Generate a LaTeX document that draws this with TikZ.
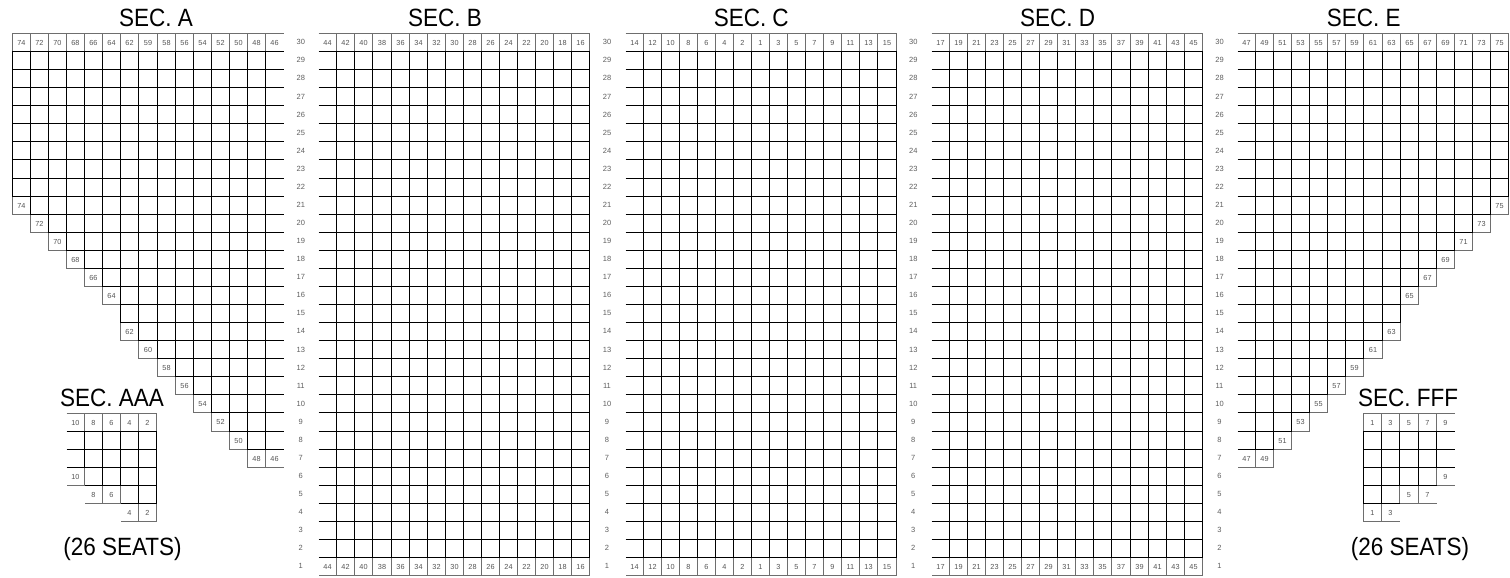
\documentclass[tikz,border=0pt]{standalone}
\usepackage{fontspec}
\setmainfont{Liberation Sans}
\newfontfamily\titlefont[FakeStretch=0.9]{Liberation Sans}
\usepackage{xcolor}
\definecolor{colNum}{RGB}{85,85,85}
\definecolor{colRow}{RGB}{95,95,95}
\definecolor{colThin}{RGB}{110,110,110}
\newcommand{\seatfont}{\fontsize{7.3}{7.3}\selectfont}
\newcommand{\rowfont}{\fontsize{7.5}{7.5}\selectfont}
\newcommand{\titlesize}{\titlefont\fontsize{25}{25}\selectfont}
\tikzset{
    seatline/.style={draw=black, line width=1.3pt},
    numline/.style={draw=colThin, line width=0.8pt},
    seatnum/.style={font=\seatfont, text=colNum, inner sep=0pt, anchor=base},
    rowlabel/.style={font=\rowfont, text=colRow, inner sep=0pt, anchor=base},
    sectitle/.style={font=\titlesize, inner sep=0pt, anchor=base}
}
\newcommand{\seatw}{18.07}
\newcommand{\rowy}[1]{(33+(30-#1)*\seatw)}
\newcommand{\secx}[1]{(12+#1*306.25)}
% corners of a seat, kept on the pixel grid
\newcommand{\seatbox}[2]{%
    \pgfmathsetmacro\xa{round(#1)+0.5}\pgfmathsetmacro\xb{round((#1)+\seatw)+0.5}%
    \pgfmathsetmacro\ya{round(#2)+0.5}\pgfmathsetmacro\yb{round((#2)+\seatw)+0.5}}
% seat open on the right (top, left, bottom edges)
\newcommand{\seatL}[3]{\seatbox{#2}{#3}\draw[#1] (\xb,\ya) -- (\xa,\ya) -- (\xa,\yb) -- (\xb,\yb);}
% seat open on the left (top, right, bottom edges)
\newcommand{\seatR}[3]{\seatbox{#2}{#3}\draw[#1] (\xa,\ya) -- (\xb,\ya) -- (\xb,\yb) -- (\xa,\yb);}
\newcommand{\numL}[4]{\seatL{numline}{#2}{#3}\node[seatnum] (#1) at ({(\xa+\xb)/2},{(\ya+\yb)/2+2.7}) {#4};}
\newcommand{\numR}[4]{\seatR{numline}{#2}{#3}\node[seatnum] (#1) at ({(\xa+\xb)/2},{(\ya+\yb)/2+2.7}) {#4};}

\begin{document}
\begin{tikzpicture}[x=1pt, y=-1pt]

    \fill[white] (0,0) rectangle (1510,578);
    \useasboundingbox (0,0) rectangle (1510,578);

    % section titles
    \node[sectitle] (titleA) at (156,26.7) {SEC. A};
    \node[sectitle] (titleB) at ({\secx{1}+126.75},26.7) {SEC. B};
    \node[sectitle] (titleC) at ({\secx{2}+126.75},26.7) {SEC. C};
    \node[sectitle] (titleD) at ({\secx{3}+126.75},26.7) {SEC. D};
    \node[sectitle] (titleE) at ({\secx{4}+126.75},26.7) {SEC. E};

    % row numbers between the sections
    \foreach \k in {0,...,3} {
        \foreach \r in {1,...,30} {
            \node[rowlabel] (row-\k-\r) at ({\secx{\k}+288.75},{\rowy{\r}+\seatw/2+2.8}) {\r};
        }
    }

    % SEC. A
    \foreach \n [count=\c] in {74,72,70,68,66,64,62,59,58,56,54,52,50,48,46} {
        \numL{A30-\c}{\secx{0}+(\c-1)*\seatw}{\rowy{30}}{\n}
    }
    \foreach \r/\c/\n in {21/1/74,20/2/72,19/3/70,18/4/68,17/5/66,16/6/64,14/7/62,13/8/60,
                          12/9/58,11/10/56,10/11/54,9/12/52,8/13/50,7/14/48,7/15/46} {
        \numL{A\r-\c}{\secx{0}+(\c-1)*\seatw}{\rowy{\r}}{\n}
    }
    \foreach \r/\s in {29/1,28/1,27/1,26/1,25/1,24/1,23/1,22/1,21/2,20/3,19/4,18/5,17/6,
                       16/7,15/7,14/8,13/9,12/10,11/11,10/12,9/13,8/14} {
        \foreach \c in {\s,...,15} {
            \seatL{seatline}{\secx{0}+(\c-1)*\seatw}{\rowy{\r}}
        }
    }

    % SEC. B, C, D
    \foreach \c in {1,...,15} {
        \pgfmathtruncatemacro\n{46-2*\c}
        \numR{B30-\c}{\secx{1}+(\c-1)*\seatw}{\rowy{30}}{\n}
        \numR{B1-\c}{\secx{1}+(\c-1)*\seatw}{\rowy{1}}{\n}
        \pgfmathtruncatemacro\m{15+2*\c}
        \numR{D30-\c}{\secx{3}+(\c-1)*\seatw}{\rowy{30}}{\m}
        \numR{D1-\c}{\secx{3}+(\c-1)*\seatw}{\rowy{1}}{\m}
    }
    \foreach \n [count=\c] in {14,12,10,8,6,4,2,1,3,5,7,9,11,13,15} {
        \numR{C30-\c}{\secx{2}+(\c-1)*\seatw}{\rowy{30}}{\n}
        \numR{C1-\c}{\secx{2}+(\c-1)*\seatw}{\rowy{1}}{\n}
    }
    \foreach \k in {1,2,3} {
        \foreach \r in {2,...,29} {
            \foreach \c in {1,...,15} {
                \seatR{seatline}{\secx{\k}+(\c-1)*\seatw}{\rowy{\r}}
            }
        }
    }

    % SEC. E
    \foreach \c in {1,...,15} {
        \pgfmathtruncatemacro\n{45+2*\c}
        \numR{E30-\c}{\secx{4}+(\c-1)*\seatw}{\rowy{30}}{\n}
    }
    \foreach \r/\c/\n in {21/15/75,20/14/73,19/13/71,18/12/69,17/11/67,16/10/65,14/9/63,13/8/61,
                          12/7/59,11/6/57,10/5/55,9/4/53,8/3/51,7/1/47,7/2/49} {
        \numR{E\r-\c}{\secx{4}+(\c-1)*\seatw}{\rowy{\r}}{\n}
    }
    \foreach \r/\e in {29/15,28/15,27/15,26/15,25/15,24/15,23/15,22/15,21/14,20/13,19/12,18/11,
                       17/10,16/9,15/9,14/8,13/7,12/6,11/5,10/4,9/3,8/2} {
        \foreach \c in {1,...,\e} {
            \seatR{seatline}{\secx{4}+(\c-1)*\seatw}{\rowy{\r}}
        }
    }

    % SEC. AAA
    \node[sectitle] (titleAAA) at (112,406.5) {SEC. AAA};
    \foreach \n [count=\c] in {10,8,6,4,2} {
        \numR{AAA1-\c}{66+(\c-1)*\seatw}{413}{\n}
    }
    \foreach \r/\c/\n in {4/1/10,5/2/8,5/3/6,6/4/4,6/5/2} {
        \numR{AAA\r-\c}{66+(\c-1)*\seatw}{413+(\r-1)*\seatw}{\n}
    }
    \foreach \r/\s in {2/1,3/1,4/2,5/4} {
        \foreach \c in {\s,...,5} {
            \seatR{seatline}{66+(\c-1)*\seatw}{413+(\r-1)*\seatw}
        }
    }
    \node[sectitle] (seatsAAA) at (122.5,555.5) {(26 SEATS)};

    % SEC. FFF
    \node[sectitle] (titleFFF) at (1408,406.5) {SEC. FFF};
    \foreach \n [count=\c] in {1,3,5,7,9} {
        \numL{FFF1-\c}{1363.3+(\c-1)*\seatw}{412.7}{\n}
    }
    \foreach \r/\c/\n in {4/5/9,5/3/5,5/4/7,6/1/1,6/2/3} {
        \numL{FFF\r-\c}{1363.3+(\c-1)*\seatw}{412.7+(\r-1)*\seatw}{\n}
    }
    \foreach \r/\e in {2/5,3/5,4/4,5/2} {
        \foreach \c in {1,...,\e} {
            \seatL{seatline}{1363.3+(\c-1)*\seatw}{412.7+(\r-1)*\seatw}
        }
    }
    \node[sectitle] (seatsFFF) at (1410,555.5) {(26 SEATS)};

\end{tikzpicture}
\end{document}
